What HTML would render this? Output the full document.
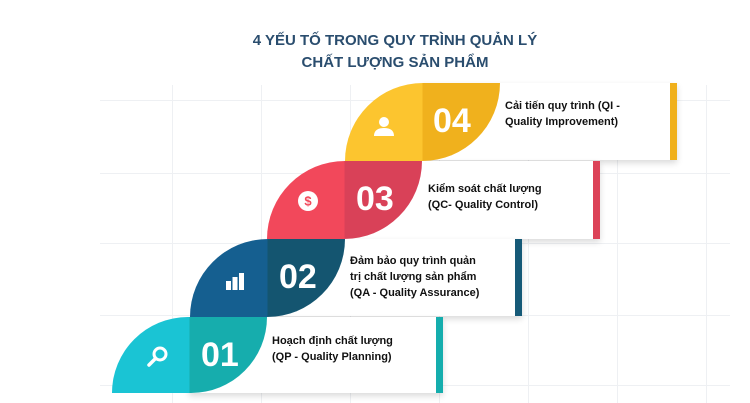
<!DOCTYPE html>
<html><head><meta charset="utf-8"><style>
body{margin:0;width:750px;height:403px;background:#fff;position:relative;overflow:hidden;font-family:"Liberation Sans",sans-serif}
.a{position:absolute}
.v{position:absolute;top:85px;bottom:0;width:1px;background:#eef0f3}
.h{position:absolute;left:100px;right:20px;height:1px;background:#eef0f3}
.title{position:absolute;left:0;width:790px;text-align:center;color:#2a4d6e;font-weight:bold;font-size:15px;line-height:22px;top:30px}
.leaf{position:absolute;width:155px;height:78px;border-radius:78px 0 78px 0}
.card{position:absolute;background:#fff;box-shadow:0 3px 6px rgba(0,0,0,.15)}
.bar{position:absolute;top:0;right:0;width:7px;height:100%}
.num{position:absolute;color:#fff;font-weight:bold;font-size:34px;line-height:34px}
.t{position:absolute;font-weight:bold;font-size:11px;line-height:16px;color:#111}
</style></head><body>
<div class="v" style="left:172px"></div><div class="v" style="left:261px"></div><div class="v" style="left:350px"></div><div class="v" style="left:439px"></div><div class="v" style="left:528px"></div><div class="v" style="left:617px"></div><div class="v" style="left:706px"></div>
<div class="h" style="top:100px"></div><div class="h" style="top:173px"></div><div class="h" style="top:243px"></div><div class="h" style="top:315px"></div><div class="h" style="top:385px"></div>
<div class="title">4 YẾU TỐ TRONG QUY TRÌNH QUẢN LÝ<br>CHẤT LƯỢNG SẢN PHẨM</div>

<div class="card" style="left:420px;top:83px;width:257px;height:77px"><div class="bar" style="background:#f0b01c"></div></div>
<div class="card" style="left:343px;top:161px;width:257px;height:78px"><div class="bar" style="background:#dc4358"></div></div>
<div class="card" style="left:266px;top:239px;width:256px;height:77px"><div class="bar" style="background:#165a78"></div></div>
<div class="card" style="left:189px;top:317px;width:254px;height:76px"><div class="bar" style="background:#15adad"></div></div>

<div class="leaf" style="left:345px;top:83px;background:linear-gradient(90deg,#fcc52f 50%,#f0b11d 50%)"></div>
<div class="leaf" style="left:267px;top:161px;background:linear-gradient(90deg,#f2485b 50%,#d94158 50%)"></div>
<div class="leaf" style="left:190px;top:239px;background:linear-gradient(90deg,#155f90 50%,#145570 50%)"></div>
<div class="leaf" style="left:112px;top:317px;height:76px;background:linear-gradient(90deg,#1ac4d4 50%,#16adad 50%)"></div>

<div class="num" style="left:433px;top:104px">04</div>
<div class="num" style="left:356px;top:182px">03</div>
<div class="num" style="left:279px;top:260px">02</div>
<div class="num" style="left:201px;top:338px">01</div>

<svg class="a" style="left:372px;top:114px" width="24" height="24"><circle cx="12" cy="8" r="5" fill="#fff"/><path d="M2 22 Q2 14 12 14 Q22 14 22 22Z" fill="#fff"/></svg>
<svg class="a" style="left:296px;top:189px" width="24" height="24"><circle cx="12" cy="12" r="10" fill="#fff"/><text x="12" y="16.5" text-anchor="middle" font-family="Liberation Sans" font-weight="bold" font-size="13" fill="#f2485b">$</text></svg>
<svg class="a" style="left:224px;top:270px" width="22" height="22"><rect x="2" y="11" width="5" height="9" fill="#fff"/><rect x="8.5" y="7" width="5" height="13" fill="#fff"/><rect x="15" y="3" width="5" height="17" fill="#fff"/></svg>
<svg class="a" style="left:146px;top:344px" width="24" height="24"><circle cx="14" cy="10" r="6" fill="none" stroke="#fff" stroke-width="3"/><line x1="9.5" y1="14.5" x2="3" y2="21" stroke="#fff" stroke-width="3.5" stroke-linecap="round"/></svg>

<div class="t" style="left:505px;top:98px">Cải tiến quy trình (QI -<br>Quality Improvement)</div>
<div class="t" style="left:428px;top:181px">Kiểm soát chất lượng<br>(QC- Quality Control)</div>
<div class="t" style="left:350px;top:253px">Đảm bảo quy trình quản<br>trị chất lượng sản phẩm<br>(QA - Quality Assurance)</div>
<div class="t" style="left:272px;top:333px">Hoạch định chất lượng<br>(QP - Quality Planning)</div>
</body></html>
